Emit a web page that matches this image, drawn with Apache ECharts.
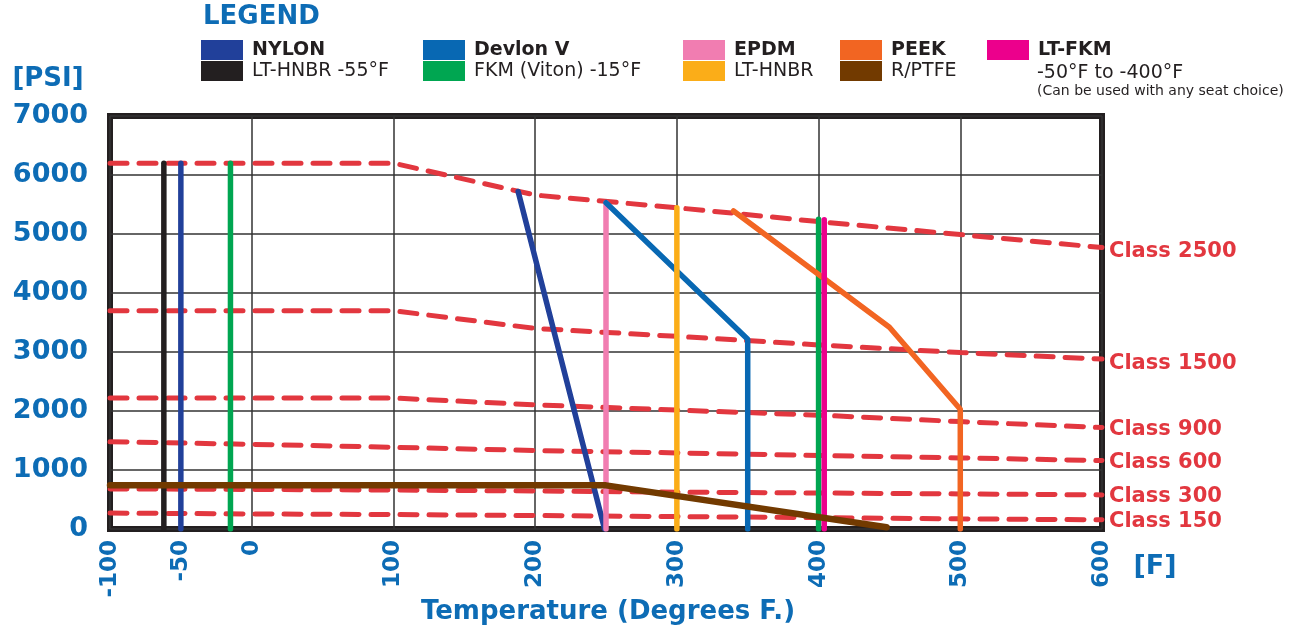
<!DOCTYPE html>
<html><head><meta charset="utf-8">
<script src="https://cdn.jsdelivr.net/npm/echarts@6.0.0/dist/echarts.min.js"></script>
<style>html,body{margin:0;padding:0;background:#fff}#c{width:1296px;height:630px}</style>
</head><body><div id="c"></div>
<script>
// ---- pressure class curves (temperature °F -> PSI) ----
const classTemps = [-100, 0, 100, 200, 300, 400, 500, 600];
const class2500 = [6200, 6200, 6200, 5660, 5445, 5210, 4990, 4770];
const class1500 = [3700, 3700, 3700, 3400, 3265, 3120, 2990, 2880];
const class900  = [2220, 2220, 2220, 2105, 2015, 1930, 1820, 1720];
const class600  = [1480, 1435, 1385, 1330, 1290, 1245, 1205, 1160];
const class300  = [680, 670, 660, 645, 625, 610, 595, 578];
const class150  = [270, 255, 245, 228, 210, 193, 172, 155];
const classNames = ['Class 2500', 'Class 1500', 'Class 900', 'Class 600', 'Class 300', 'Class 150'];

// ---- seat / seal limits [temp, psi] ----
const nylonLow   = [[-50, 0], [-50, 6200]];
const nylonHigh  = [[188, 5720], [249, 0]];
const ltHnbr55   = [[-62, 0], [-62, 6200]];
const devlonV    = [[250, 5530], [350, 3215], [350, 0]];
const fkmLow     = [[-15, 0], [-15, 6200]];
const fkmHigh    = [[400, 0], [400, 5250]];
const epdm       = [[250, 0], [250, 5530]];
const ltHnbr     = [[300, 0], [300, 5445]];
const peek       = [[340, 5390], [450, 3420], [500, 2030], [500, 0]];
const rptfe      = [[-100, 740], [250, 740], [448, 30]];
const ltFkm      = [[404, 0], [404, 5240]];

// ---- ticks ----
const xTickLabels = [-100, -50, 0, 100, 200, 300, 400, 500, 600];
const yMin = 0, yMax = 7000, yStep = 1000;
const xMin = -100, xMax = 600, xStep = 100;

const FONT = 'DejaVu Sans';
const BLUE = '#0d6cb5';
const RED = '#e2373f';
const INK = '#231f20';

const chart = echarts.init(document.getElementById('c'), null, {renderer: 'canvas'});

const classData = [class2500, class1500, class900, class600, class300, class150];
const labelShift = [4, 4, 2, 2, 2, 2];
const classSeries = classData.map((arr, k) => ({
  name: classNames[k],
  type: 'line',
  data: classTemps.map((t, i) => [t, arr[i]]),
  showSymbol: false,
  silent: true,
  z: 2,
  itemStyle: {color: RED},
  lineStyle: {color: RED, width: 5, type: [17, 12], cap: 'round'},
  endLabel: {
    show: true, formatter: classNames[k], color: RED, fontWeight: 'bold',
    fontSize: 21, fontFamily: FONT, distance: 7, offset: [0, labelShift[k]]
  }
}));

function seat(name, data, color, width, z) {
  return {
    name, type: 'line', data, showSymbol: false, silent: true, z: z || 3,
    itemStyle: {color}, lineStyle: {color, width: width || 5.5, cap: 'round', join: 'round'}
  };
}

const seatSeries = [
  seat('LT-HNBR -55°F', ltHnbr55, '#231f20'),
  seat('NYLON', nylonLow, '#21409a'),
  seat('NYLON', nylonHigh, '#21409a'),
  seat('FKM (Viton) -15°F', fkmLow, '#00a651'),
  seat('FKM (Viton) -15°F', fkmHigh, '#00a651'),
  seat('EPDM', epdm, '#f17db1'),
  seat('Devlon V', devlonV, '#0868b3'),
  seat('LT-HNBR', ltHnbr, '#fbad18'),
  seat('PEEK', peek, '#f26522'),
  seat('LT-FKM', ltFkm, '#ec008c'),
  seat('R/PTFE', rptfe, '#723a00', 6.5, 4)
];

function legendCol(left, items) {
  return {
    orient: 'vertical', left, top: 40, padding: 0,
    itemWidth: 42, itemHeight: 20, itemGap: 1, icon: 'rect', selectedMode: false,
    textStyle: {fontSize: 19, color: INK, fontFamily: FONT, lineHeight: 20, padding: [0, 0, 0, 4]},
    data: items.map((n, i) => i === 0 ? {name: n, textStyle: {fontWeight: 'bold'}} : {name: n})
  };
}

const option = {
  animation: false,
  backgroundColor: '#fff',
  textStyle: {fontFamily: FONT},
  grid: {left: 110, right: 194, top: 116, bottom: 101, show: true, borderColor: INK, borderWidth: 6, backgroundColor: '#fff'},
  legend: [
    legendCol(201, ['NYLON', 'LT-HNBR -55°F']),
    legendCol(423, ['Devlon V', 'FKM (Viton) -15°F']),
    legendCol(683, ['EPDM', 'LT-HNBR']),
    legendCol(840, ['PEEK', 'R/PTFE']),
    legendCol(987, ['LT-FKM'])
  ],
  xAxis: {
    type: 'value', min: xMin, max: xMax, interval: xStep,
    axisLine: {show: false}, axisTick: {show: false},
    axisLabel: {
      customValues: xTickLabels, rotate: 90, margin: 11,
      color: BLUE, fontWeight: 'bold', fontSize: 23, fontFamily: FONT,
      formatter: v => String(v)
    },
    splitLine: {show: true, lineStyle: {color: '#333', width: 1.5}}
  },
  yAxis: {
    type: 'value', min: yMin, max: yMax, interval: yStep,
    axisLine: {show: false}, axisTick: {show: false},
    axisLabel: {margin: 22, color: BLUE, fontWeight: 'bold', fontSize: 27, fontFamily: FONT,
      formatter: v => String(v)},
    splitLine: {show: true, lineStyle: {color: '#333', width: 1.5}}
  },
  graphic: [
    {type: 'text', style: {x: 203, y: 17, text: 'LEGEND', fill: BLUE, fontWeight: 'bold', fontSize: 26, fontFamily: FONT, verticalAlign: 'middle'}},
    {type: 'text', style: {x: 48, y: 79, text: '[PSI]', fill: BLUE, fontWeight: 'bold', fontSize: 26, fontFamily: FONT, align: 'center', verticalAlign: 'middle'}},
    {type: 'text', style: {x: 1155, y: 567, text: '[F]', fill: BLUE, fontWeight: 'bold', fontSize: 27, fontFamily: FONT, align: 'center', verticalAlign: 'middle'}},
    {type: 'text', style: {x: 608, y: 612, text: 'Temperature (Degrees F.)', fill: BLUE, fontWeight: 'bold', fontSize: 26, fontFamily: FONT, align: 'center', verticalAlign: 'middle'}},
    {type: 'text', style: {x: 1037, y: 73, text: '-50°F to -400°F', fill: INK, fontSize: 19, fontFamily: FONT, verticalAlign: 'middle'}},
    {type: 'text', style: {x: 1037, y: 91, text: '(Can be used with any seat choice)', fill: INK, fontSize: 14, fontFamily: FONT, verticalAlign: 'middle'}}
  ],
  series: classSeries.concat(seatSeries)
};
chart.setOption(option);
</script>
</body></html>
